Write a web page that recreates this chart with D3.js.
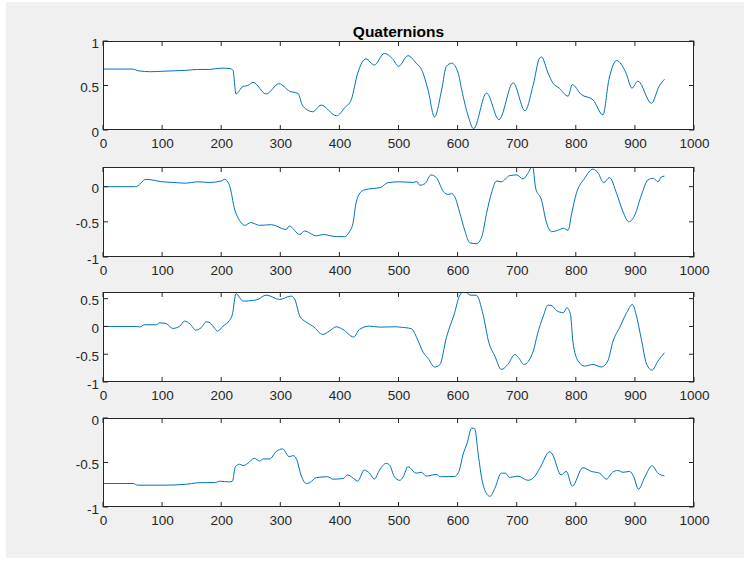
<!DOCTYPE html>
<html>
<head>
<meta charset="utf-8">
<script src="https://cdn.jsdelivr.net/npm/d3@7"></script>
<style>
  body { margin: 0; background: #fff; }
  text { font-family: "Liberation Sans", Arial, Helvetica, sans-serif; }
</style>
</head>
<body>
<div id="chart"></div>
<script>
// DATA: [sample, value]
const q0 = [[0,0.685],[50,0.685],[60,0.665],[80,0.655],[100,0.66],[120,0.665],[140,0.67],[160,0.68],[180,0.68],[200,0.695],[215,0.69],[220,0.67],[225,0.405],[237,0.49],[245,0.5],[254,0.535],[276,0.405],[298,0.52],[316,0.435],[330,0.41],[338,0.27],[355,0.205],[369,0.28],[395,0.16],[409,0.25],[420,0.34],[431,0.64],[445,0.8],[459,0.73],[476,0.86],[490,0.8],[500,0.715],[516,0.835],[530,0.75],[539,0.68],[550,0.45],[561,0.146],[573,0.45],[581,0.715],[590,0.75],[601,0.64],[607,0.45],[618,0.155],[627,0.015],[649,0.415],[670,0.116],[694,0.53],[714,0.217],[728,0.51],[739,0.81],[742,0.82],[753,0.64],[761,0.53],[772,0.47],[787,0.38],[794,0.51],[809,0.4],[829,0.34],[846,0.17],[856,0.565],[869,0.78],[885,0.64],[895,0.47],[905,0.55],[928,0.3],[941,0.49],[950,0.57]];
const q1 = [[0,0],[55,0],[73,0.105],[100,0.07],[120,0.06],[140,0.05],[160,0.07],[180,0.06],[200,0.08],[206,0.105],[214,0.02],[223,-0.33],[231,-0.48],[240,-0.55],[250,-0.51],[265,-0.55],[285,-0.54],[310,-0.61],[315,-0.56],[333,-0.68],[341,-0.63],[361,-0.7],[372,-0.68],[395,-0.71],[409,-0.71],[417,-0.64],[423,-0.52],[428,-0.24],[437,-0.07],[445,-0.04],[470,-0.01],[482,0.057],[502,0.07],[525,0.06],[531,0.075],[536,0.02],[545,0.045],[555,0.167],[564,0.13],[576,-0.07],[584,-0.11],[590,-0.1],[595,-0.14],[604,-0.38],[612,-0.62],[621,-0.8],[632,-0.81],[641,-0.71],[649,-0.38],[658,-0.07],[666,0.08],[674,0.07],[688,0.157],[700,0.167],[711,0.11],[719,0.19],[727,0.295],[732,-0.02],[742,-0.19],[750,-0.5],[759,-0.64],[773,-0.61],[779,-0.59],[787,-0.62],[793,-0.38],[801,-0.095],[815,0.12],[829,0.25],[838,0.19],[847,0.057],[857,0.13],[869,-0.095],[880,-0.36],[890,-0.5],[900,-0.4],[911,-0.12],[922,0.095],[931,0.12],[939,0.07],[945,0.14],[950,0.15]];
const q2 = [[0,0],[56,0],[62,-0.01],[70,0.03],[90,0.03],[96,0.066],[107,0.05],[118,-0.036],[130,0.006],[138,0.096],[147,0.048],[157,-0.066],[166,-0.024],[175,0.084],[181,0.066],[189,-0.036],[194,-0.084],[203,0.006],[214,0.108],[219,0.216],[225,0.59],[237,0.456],[255,0.47],[262,0.486],[276,0.564],[299,0.486],[318,0.546],[324,0.5],[333,0.186],[343,0.084],[355,0.006],[372,-0.144],[383,-0.084],[395,-0.006],[406,-0.054],[424,-0.19],[434,-0.054],[451,0.006],[468,-0.012],[496,-0.006],[502,-0.012],[522,-0.042],[531,-0.204],[542,-0.47],[550,-0.576],[561,-0.73],[570,-0.69],[581,-0.2],[595,0.246],[603,0.546],[612,0.64],[621,0.564],[632,0.56],[643,0.216],[653,-0.294],[663,-0.534],[674,-0.774],[685,-0.684],[697,-0.504],[703,-0.56],[712,-0.684],[728,-0.444],[735,-0.144],[745,0.186],[753,0.384],[760,0.37],[767,0.288],[779,0.246],[785,0.336],[791,0.216],[795,-0.264],[804,-0.624],[815,-0.714],[829,-0.684],[843,-0.73],[854,-0.624],[863,-0.264],[874,-0.024],[886,0.246],[896,0.396],[902,0.216],[911,-0.234],[920,-0.684],[929,-0.786],[939,-0.624],[950,-0.474]];
const q3 = [[0,-0.736],[51,-0.736],[59,-0.755],[100,-0.755],[140,-0.745],[160,-0.728],[190,-0.725],[197,-0.71],[214,-0.718],[219,-0.71],[224,-0.547],[231,-0.52],[237,-0.535],[245,-0.51],[256,-0.453],[265,-0.483],[271,-0.46],[282,-0.46],[293,-0.377],[304,-0.347],[315,-0.434],[322,-0.423],[328,-0.47],[335,-0.64],[344,-0.736],[350,-0.725],[361,-0.67],[380,-0.66],[389,-0.687],[406,-0.68],[414,-0.64],[428,-0.7],[431,-0.71],[442,-0.585],[451,-0.62],[459,-0.687],[468,-0.585],[479,-0.51],[485,-0.53],[493,-0.66],[502,-0.7],[508,-0.66],[516,-0.547],[530,-0.62],[539,-0.61],[547,-0.653],[564,-0.634],[571,-0.66],[595,-0.657],[603,-0.585],[609,-0.415],[616,-0.283],[624,-0.113],[629,-0.12],[635,-0.415],[642,-0.717],[649,-0.85],[655,-0.88],[663,-0.79],[674,-0.62],[681,-0.62],[688,-0.668],[702,-0.653],[719,-0.7],[730,-0.66],[739,-0.566],[756,-0.377],[761,-0.415],[775,-0.64],[784,-0.6],[794,-0.766],[812,-0.558],[826,-0.6],[840,-0.62],[852,-0.687],[862,-0.61],[871,-0.59],[880,-0.61],[891,-0.6],[898,-0.66],[906,-0.8],[917,-0.66],[929,-0.536],[939,-0.62],[950,-0.65]];

const xTicks = [0, 100, 200, 300, 400, 500, 600, 700, 800, 900, 1000];
const yTicks1 = [0, 0.5, 1];
const yTicks2 = [-1, -0.5, 0];
const yTicks3 = [-1, -0.5, 0, 0.5];
const yTicks4 = [-1, -0.5, 0];

const width = 744;
const height = 562;
const left = 103;
const right = 694;
const ink = "#262626";

const panels = [
  { data: q0, domain: [0, 1], ticks: yTicks1, top: 41, bottom: 130 },
  { data: q1, domain: [-1, 0.28], ticks: yTicks2, top: 167, bottom: 257 },
  { data: q2, domain: [-1, 0.62], ticks: yTicks3, top: 292, bottom: 382 },
  { data: q3, domain: [-1, 0], ticks: yTicks4, top: 418, bottom: 507 },
];

const svg = d3
  .select("#chart")
  .append("svg")
  .attr("width", width)
  .attr("height", height);

// figure background
svg.append("rect").attr("x", 6).attr("y", 2).attr("width", width - 6).attr("height", 556).attr("fill", "#f0f0f0");

const xScale = d3.scaleLinear().domain([0, 1000]).range([left, right]);
// MATLAB style labels: plain hyphen minus
const fmt = (d) => String(d);

panels.forEach((p, i) => {
  const yScale = d3.scaleLinear().domain(p.domain).range([p.bottom, p.top]);
  const g = svg.append("g");

  g.append("rect")
    .attr("x", left).attr("y", p.top)
    .attr("width", right - left).attr("height", p.bottom - p.top)
    .attr("fill", "#fff");

  g.append("clipPath").attr("id", `clip${i}`)
    .append("rect")
    .attr("x", left).attr("y", p.top)
    .attr("width", right - left).attr("height", p.bottom - p.top);

  const line = d3.line()
    .x((d) => xScale(d[0]))
    .y((d) => yScale(d[1]))
    .curve(d3.curveMonotoneX);

  g.append("path")
    .datum(p.data)
    .attr("clip-path", `url(#clip${i})`)
    .attr("fill", "none")
    .attr("stroke", "#0072BD")
    .attr("stroke-width", 1)
    .attr("d", line);

  // axes: labels outside, ticks inward on all four sides
  const xAx = g.append("g")
    .attr("transform", `translate(0,${p.bottom})`)
    .call(d3.axisBottom(xScale).tickValues(xTicks).tickFormat(fmt).tickSize(0).tickPadding(8));
  const yAx = g.append("g")
    .attr("transform", `translate(${left},0)`)
    .call(d3.axisLeft(yScale).tickValues(p.ticks).tickFormat(fmt).tickSize(0).tickPadding(4));
  [xAx, yAx].forEach((a) => {
    a.select(".domain").remove();
    a.selectAll("text").attr("font-size", 13.5).attr("fill", ink).attr("font-family", "Liberation Sans, Arial, sans-serif");
  });
  yAx.selectAll("text").attr("dy", "0.45em");

  const tl = 5;
  g.selectAll(".xtb").data(xTicks).join("line")
    .attr("x1", (d) => xScale(d)).attr("x2", (d) => xScale(d))
    .attr("y1", p.bottom).attr("y2", p.bottom - tl)
    .attr("stroke", ink);
  g.selectAll(".xtt").data(xTicks).join("line")
    .attr("x1", (d) => xScale(d)).attr("x2", (d) => xScale(d))
    .attr("y1", p.top).attr("y2", p.top + tl)
    .attr("stroke", ink);
  g.selectAll(".ytl").data(p.ticks).join("line")
    .attr("y1", (d) => yScale(d)).attr("y2", (d) => yScale(d))
    .attr("x1", left).attr("x2", left + tl)
    .attr("stroke", ink);
  g.selectAll(".ytr").data(p.ticks).join("line")
    .attr("y1", (d) => yScale(d)).attr("y2", (d) => yScale(d))
    .attr("x1", right).attr("x2", right - tl)
    .attr("stroke", ink);

  g.append("rect")
    .attr("x", left + 0.5).attr("y", p.top + 0.5)
    .attr("width", right - left - 1).attr("height", p.bottom - p.top - 1)
    .attr("fill", "none")
    .attr("stroke", ink)
    .attr("stroke-width", 1);
});

// TITLE
svg.append("text")
  .attr("x", (left + right) / 2)
  .attr("y", 37)
  .attr("text-anchor", "middle")
  .attr("font-size", 15.5)
  .attr("font-weight", "bold")
  .attr("fill", "#000")
  .text("Quaternions");
</script>
</body>
</html>
